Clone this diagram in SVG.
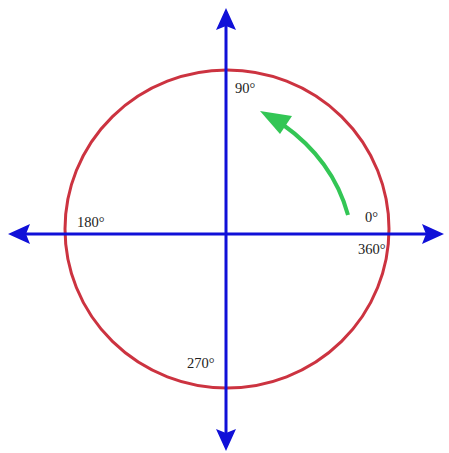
<svg xmlns="http://www.w3.org/2000/svg" width="449" height="453" viewBox="0 0 449 453">
<style>
.ax{stroke:#1010d8;stroke-width:3;fill:none}
.head{fill:#1010d8}
.lbl{font-family:"Liberation Serif",serif;font-size:14.5px;fill:#222}
</style>
<rect width="449" height="453" fill="#fff"/>
<g id="circle">
<ellipse cx="227" cy="229" rx="162" ry="159" fill="none" stroke="#cc3340" stroke-width="3"/>
</g>
<g id="axes">
<line class="ax" x1="226" y1="24" x2="226" y2="434"/>
<line class="ax" x1="26" y1="234" x2="426" y2="234"/>
<path class="head" d="M226,8 L236,30 L226,26 L216,30 Z"/>
<path class="head" d="M226,451 L236,429 L226,433 L216,429 Z"/>
<path class="head" d="M8,234 L30,224 L26,234 L30,244 Z"/>
<path class="head" d="M444,234 L422,224 L426,234 L422,244 Z"/>
</g>
<g id="rotation">
<path d="M348,215 Q333,160 282,124" fill="none" stroke="#33c655" stroke-width="4"/>
<path d="M260,111 L292,116 L280,134 Z" fill="#33c655"/>
</g>
<g id="labels">
<text class="lbl" x="235" y="93">90°</text>
<text class="lbl" x="77" y="227">180°</text>
<text class="lbl" x="365" y="222">0°</text>
<text class="lbl" x="358" y="254">360°</text>
<text class="lbl" x="187" y="368">270°</text>
</g>
</svg>
